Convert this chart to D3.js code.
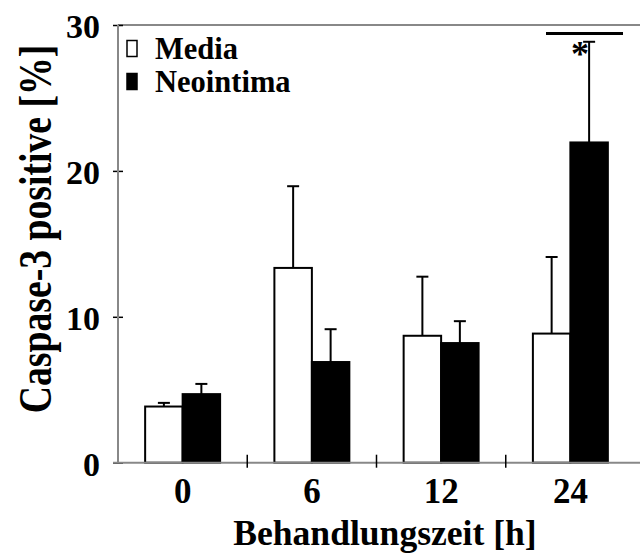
<!DOCTYPE html>
<html>
<head>
<meta charset="utf-8">
<script src="https://cdn.jsdelivr.net/npm/d3@7"></script>
<style>
  html, body { margin: 0; padding: 0; background: #fff; }
  svg { display: block; }
  text { font-family: "Liberation Serif", "Times New Roman", serif; font-weight: bold; fill: #000; }
</style>
</head>
<body>
<div id="chart"></div>
<script>
// Daten
const categories = ['0', '6', '12', '24'];
const series = ['Media', 'Neointima'];
const mediaValues = [3.85, 13.35, 8.7, 8.85];
const mediaErrors = [0.25, 5.6, 4.05, 5.25];
const neoValues = [4.7, 6.9, 8.2, 21.95];
const neoErrors = [0.7, 2.25, 1.5, 6.9];
const yTicks = [0, 10, 20, 30];

const W = 640, H = 557;
const plotL = 118, plotR = 635, plotT = 25, plotB = 462.7;

const svg = d3.select('#chart').append('svg')
  .attr('width', W).attr('height', H);

const x = d3.scaleBand().domain(categories).range([plotL, plotR])
  .paddingInner(0.42).paddingOuter(0.21);
const xs = d3.scaleBand().domain(series).range([0, x.bandwidth()]);
const y = d3.scaleLinear().domain([0, 30]).range([plotB, plotT]);

const rows = categories.map((c, i) => ([
  { cat: c, s: 'Media', v: mediaValues[i], e: mediaErrors[i] },
  { cat: c, s: 'Neointima', v: neoValues[i], e: neoErrors[i] }
])).flat();

// Rahmen oben (grau)
svg.append('line')
  .attr('x1', plotL).attr('x2', W).attr('y1', plotT).attr('y2', plotT)
  .attr('stroke', '#888').attr('stroke-width', 2);

// Fehlerbalken (nur nach oben)
const eb = svg.append('g');
rows.forEach(d => {
  const cx = x(d.cat) + xs(d.s) + xs.bandwidth() / 2;
  eb.append('line').attr('x1', cx).attr('x2', cx)
    .attr('y1', y(d.v)).attr('y2', y(d.v + d.e))
    .attr('stroke', '#000').attr('stroke-width', 2);
  eb.append('line').attr('x1', cx - 6).attr('x2', cx + 6)
    .attr('y1', y(d.v + d.e)).attr('y2', y(d.v + d.e))
    .attr('stroke', '#000').attr('stroke-width', 2);
});

// Balken
svg.append('g').selectAll('rect').data(rows).join('rect')
  .attr('x', d => x(d.cat) + xs(d.s))
  .attr('y', d => y(d.v))
  .attr('width', xs.bandwidth())
  .attr('height', d => y(0) - y(d.v))
  .attr('fill', d => d.s === 'Media' ? '#fff' : '#000')
  .attr('stroke', '#000').attr('stroke-width', 2);

// y-Achse
const yAxis = svg.append('g').attr('transform', `translate(${plotL},0)`)
  .call(d3.axisLeft(y).tickValues(yTicks).tickSize(0).tickPadding(18));
yAxis.select('.domain').remove();
yAxis.selectAll('.tick line').attr('x1', -5).attr('x2', 5)
  .attr('stroke', '#000').attr('stroke-width', 1.5);
yAxis.selectAll('.tick text').style('font-size', '34px').attr('dy', '0.37em');
svg.append('line')
  .attr('x1', plotL).attr('x2', plotL).attr('y1', plotT).attr('y2', plotB)
  .attr('stroke', '#888').attr('stroke-width', 2);

// x-Achse
svg.append('line')
  .attr('x1', plotL - 5).attr('x2', W).attr('y1', plotB).attr('y2', plotB)
  .attr('stroke', '#888').attr('stroke-width', 2);
const bounds = categories.slice(1).map(c => x(c) - x.step() * x.paddingInner() / 2);
svg.append('g').selectAll('line').data(bounds).join('line')
  .attr('x1', d => d).attr('x2', d => d)
  .attr('y1', plotB - 8).attr('y2', plotB + 5)
  .attr('stroke', '#000').attr('stroke-width', 1.5);
svg.append('g').selectAll('text').data(categories).join('text')
  .attr('x', d => x(d) + x.bandwidth() / 2)
  .attr('y', 503)
  .attr('text-anchor', 'middle')
  .style('font-size', '35px')
  .text(d => d);

// Achsentitel
svg.append('text')
  .attr('x', 385).attr('y', 545)
  .attr('text-anchor', 'middle')
  .style('font-size', '35.6px')
  .text('Behandlungszeit [h]');
svg.append('text')
  .attr('transform', 'translate(51,229) rotate(-90) scale(0.82,1)')
  .attr('text-anchor', 'middle')
  .style('font-size', '46px')
  .text('Caspase-3 positive [%]');

// Legende
const legend = svg.append('g');
series.forEach((s, i) => {
  const ly = 59 + i * 33;
  legend.append('rect')
    .attr('x', 127).attr('y', ly - 18.5).attr('width', 10).attr('height', 16)
    .attr('fill', i === 0 ? '#fff' : '#000')
    .attr('stroke', '#000').attr('stroke-width', 1.5);
  legend.append('text')
    .attr('x', 155).attr('y', ly)
    .style('font-size', '30.5px')
    .text(s);
});

// Signifikanz
svg.append('line')
  .attr('x1', 546).attr('x2', 623).attr('y1', 33.5).attr('y2', 33.5)
  .attr('stroke', '#000').attr('stroke-width', 3);
svg.append('text')
  .attr('x', 580).attr('y', 66)
  .attr('text-anchor', 'middle')
  .style('font-size', '36px')
  .text('*');
</script>
</body>
</html>
